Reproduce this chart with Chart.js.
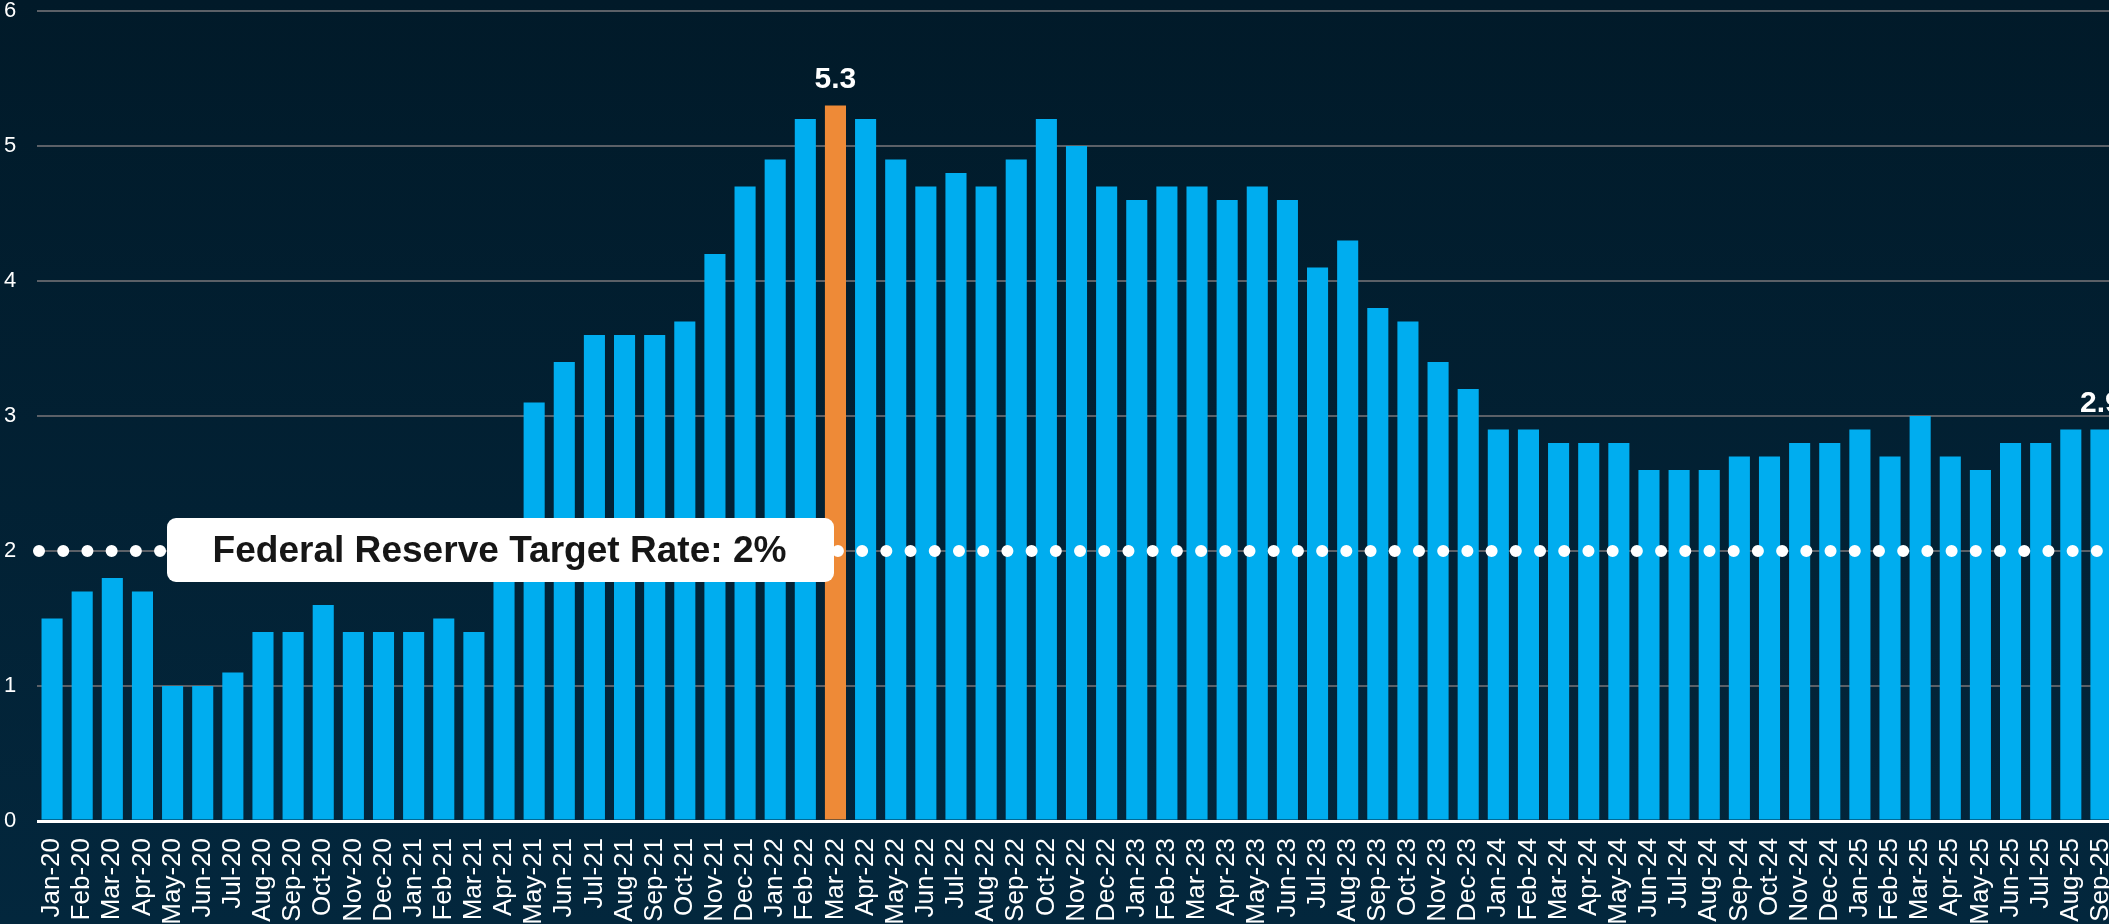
<!DOCTYPE html>
<html>
<head>
<meta charset="utf-8">
<title>Inflation vs Fed target</title>
<script src="https://cdn.jsdelivr.net/npm/chart.js@4/dist/chart.umd.min.js"></script>
<style>
  html, body { margin: 0; padding: 0; overflow: hidden; background: #021f33; }
  #wrap { width: 2116px; height: 924px; }
</style>
</head>
<body>
<div id="wrap"><canvas id="inflation" width="2116" height="924"></canvas></div>
<script>
// months Jan-20 .. Sep-25
var months = [
  "Jan-20","Feb-20","Mar-20","Apr-20","May-20","Jun-20","Jul-20","Aug-20","Sep-20","Oct-20","Nov-20","Dec-20",
  "Jan-21","Feb-21","Mar-21","Apr-21","May-21","Jun-21","Jul-21","Aug-21","Sep-21","Oct-21","Nov-21","Dec-21",
  "Jan-22","Feb-22","Mar-22","Apr-22","May-22","Jun-22","Jul-22","Aug-22","Sep-22","Oct-22","Nov-22","Dec-22",
  "Jan-23","Feb-23","Mar-23","Apr-23","May-23","Jun-23","Jul-23","Aug-23","Sep-23","Oct-23","Nov-23","Dec-23",
  "Jan-24","Feb-24","Mar-24","Apr-24","May-24","Jun-24","Jul-24","Aug-24","Sep-24","Oct-24","Nov-24","Dec-24",
  "Jan-25","Feb-25","Mar-25","Apr-25","May-25","Jun-25","Jul-25","Aug-25","Sep-25"
];
var rate2020 = [1.5, 1.7, 1.8, 1.7, 1.0, 1.0, 1.1, 1.4, 1.4, 1.6, 1.4, 1.4];
var rate2021 = [1.4, 1.5, 1.4, 2.1, 3.1, 3.4, 3.6, 3.6, 3.6, 3.7, 4.2, 4.7];
var rate2022 = [4.9, 5.2, 5.3, 5.2, 4.9, 4.7, 4.8, 4.7, 4.9, 5.2, 5.0, 4.7];
var rate2023 = [4.6, 4.7, 4.7, 4.6, 4.7, 4.6, 4.1, 4.3, 3.8, 3.7, 3.4, 3.2];
var rate2024 = [2.9, 2.9, 2.8, 2.8, 2.8, 2.6, 2.6, 2.6, 2.7, 2.7, 2.8, 2.8];
var rate2025 = [2.9, 2.7, 3.0, 2.7, 2.6, 2.8, 2.8, 2.9, 2.9];
var inflation = rate2020.concat(rate2021, rate2022, rate2023, rate2024, rate2025);

var yTicks = [0, 1, 2, 3, 4, 5, 6];
var targetRate = 2;
var targetText = "Federal Reserve Target Rate: 2%";
var highlightIndex = 26;       // Mar-22 peak
var labeledIndexes = [26, 68]; // 5.3 and latest

var BLUE = "#00adef";
var ORANGE = "#ee8a37";

var barColors = inflation.map(function (v, i) {
  return i === highlightIndex ? ORANGE : BLUE;
});

// background gradient
var bgPlugin = {
  id: "bg",
  beforeDraw: function (chart) {
    var c = chart.ctx;
    var g = c.createLinearGradient(0, 0, 0, chart.height);
    g.addColorStop(0, "#011a29");
    g.addColorStop(1, "#03273d");
    c.save();
    c.fillStyle = g;
    c.fillRect(0, 0, chart.width, chart.height);
    c.restore();
  }
};

// dotted target line + callout box
var targetPlugin = {
  id: "target",
  afterDatasetsDraw: function (chart) {
    var c = chart.ctx;
    var area = chart.chartArea;
    var y = chart.scales.y.getPixelForValue(targetRate);
    c.save();
    c.strokeStyle = "#ffffff";
    c.lineWidth = 12;
    c.lineCap = "round";
    c.setLineDash([0.01, 24.2]);
    c.beginPath();
    c.moveTo(area.left + 2, y);
    c.lineTo(area.right + 20, y);
    c.stroke();
    c.setLineDash([]);

    // box
    var bx = 167, bw = 667, bh = 64;
    var by = y - bh / 2 - 1;
    c.fillStyle = "#ffffff";
    c.beginPath();
    c.roundRect(bx, by, bw, bh, 9);
    c.fill();

    c.font = "bold 37px 'Liberation Sans', Arial, sans-serif";
    c.fillStyle = "#161616";
    c.textAlign = "center";
    c.textBaseline = "middle";
    var w = c.measureText(targetText).width;
    var sx = 574 / w;
    c.translate(bx + bw / 2 - 1, y + 1);
    c.scale(sx, 1);
    c.fillText(targetText, 0, 0);
    c.restore();
  }
};

// value labels above selected bars
var valuePlugin = {
  id: "values",
  afterDatasetsDraw: function (chart) {
    var c = chart.ctx;
    var meta = chart.getDatasetMeta(0);
    c.save();
    c.font = "bold 30px 'Liberation Sans', Arial, sans-serif";
    c.fillStyle = "#ffffff";
    c.textAlign = "center";
    c.textBaseline = "alphabetic";
    labeledIndexes.forEach(function (i) {
      var bar = meta.data[i];
      c.fillText(inflation[i].toFixed(1), bar.x, bar.y - 18);
    });
    c.restore();
  }
};

var ctx = document.getElementById("inflation");
new Chart(ctx, {
  type: "bar",
  data: {
    labels: months,
    datasets: [
      {
        data: inflation,
        backgroundColor: barColors,
        borderWidth: 0,
        barPercentage: 0.7,
        categoryPercentage: 1.0
      }
    ]
  },
  options: {
    responsive: false,
    animation: false,
    layout: { padding: { top: 11, left: 4, right: 0, bottom: 0 } },
    plugins: {
      legend: { display: false },
      tooltip: { enabled: false }
    },
    scales: {
      x: {
        grid: { display: false, drawTicks: false },
        border: { display: false },
        ticks: {
          color: "#ffffff",
          font: { family: "'Liberation Sans', Arial, sans-serif", size: 26 },
          minRotation: 90,
          maxRotation: 90,
          autoSkip: false,
          padding: 17
        },
        afterFit: function (scale) {
          scale.height = 103;
          scale.paddingLeft = 0;
          scale.paddingRight = 0;
        }
      },
      y: {
        min: yTicks[0],
        max: yTicks[yTicks.length - 1],
        afterBuildTicks: function (scale) {
          scale.ticks = yTicks.map(function (v) { return { value: v }; });
        },
        grid: {
          drawTicks: false,
          color: function (c) { return c.tick.value === 0 ? "#ffffff" : "#5b6067"; },
          lineWidth: function (c) { return c.tick.value === 0 ? 3 : 2; }
        },
        border: { display: false },
        ticks: {
          color: "#ffffff",
          font: { family: "'Liberation Sans', Arial, sans-serif", size: 22 },
          crossAlign: "far",
          padding: 0
        },
        afterFit: function (scale) {
          scale.width = 33;
          scale.paddingTop = 0;
          scale.paddingBottom = 0;
        }
      }
    }
  },
  plugins: [bgPlugin, valuePlugin, targetPlugin]
});
</script>
</body>
</html>
